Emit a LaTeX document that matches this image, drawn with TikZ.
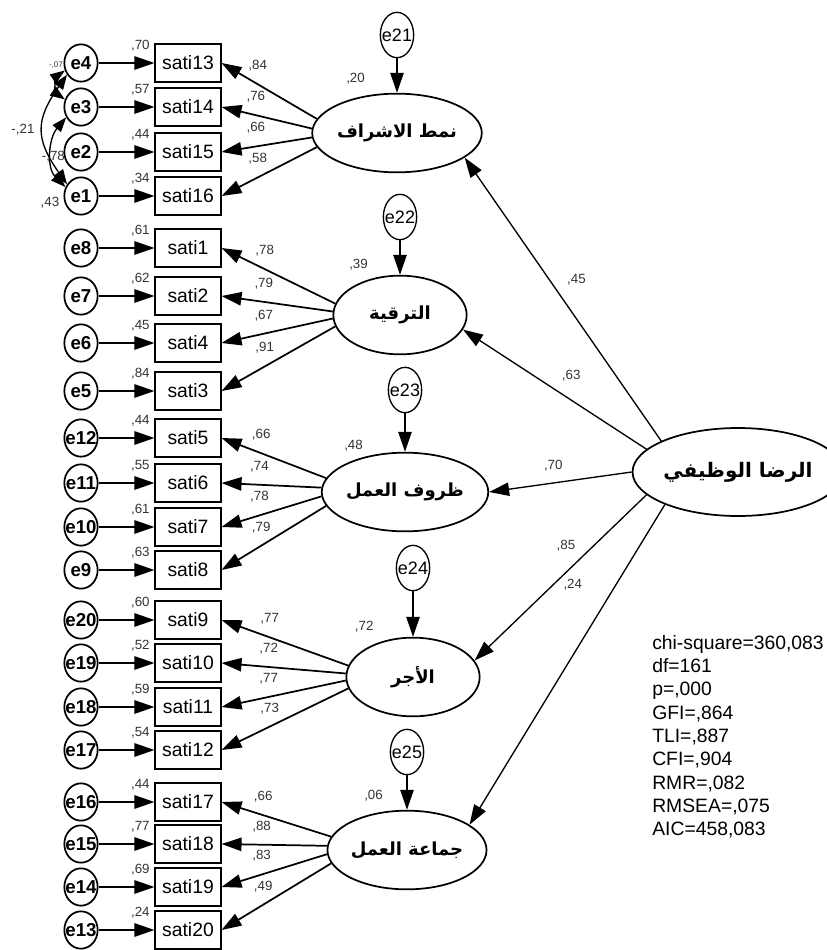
\documentclass[tikz,border=0pt]{standalone}
\usepackage{fontspec}
\setmainfont{Liberation Sans}
\newfontfamily\arabicfont[Script=Arabic]{DejaVu Sans}
\TeXXeTstate=1
\usetikzlibrary{shapes.geometric,arrows.meta}
\newcommand{\artxt}[1]{{\arabicfont\bfseries\beginR #1\endR}}
\begin{document}
\begin{tikzpicture}[x=0.75pt,y=0.75pt,
	item/.style={draw,line width=1.3pt,minimum width=49pt,minimum height=28pt,inner sep=0pt,font=\fontsize{14.5}{15}\selectfont},
	err/.style={draw,ellipse,line width=1.3pt,minimum width=25pt,minimum height=28pt,inner xsep=-6pt,inner ysep=0pt,font=\bfseries\fontsize{14}{15}\selectfont},
	dist/.style={draw,ellipse,line width=1pt,minimum width=25pt,minimum height=34pt,inner xsep=-6pt,inner ysep=0pt,font=\fontsize{13.5}{14}\selectfont},
	latent/.style={draw,ellipse,line width=1.3pt,minimum width=100pt,minimum height=59pt,inner sep=0pt,font=\fontsize{13.5}{14}\selectfont},
	num/.style={font=\fontsize{10}{11}\selectfont,text=black!80,inner sep=1pt},
	smr/.style={pos=1,anchor=south east,xshift=-2pt,yshift=7pt},
	ld/.style={-{Triangle[length=15pt,width=10pt]},line width=1.3pt},
	reg/.style={-{Triangle[length=15pt,width=10pt]},line width=1pt},
	cov/.style={{Triangle[length=11pt,width=8pt]}-{Triangle[length=11pt,width=8pt]},line width=1pt}]
	\useasboundingbox (0,0) rectangle (827,-950);

	\node[latent,minimum width=133pt,minimum height=66pt,font=\fontsize{15}{16}\selectfont] (M) at (738,-472) {\artxt{الرضا الوظيفي}};
	\node[latent] (L1) at (397,-133) {\artxt{نمط الاشراف}};
	\node[latent] (L2) at (400,-315) {\artxt{الترقية}};
	\node[latent] (L3) at (405,-492) {\artxt{ظروف العمل}};
	\node[latent] (L4) at (413,-677) {\artxt{الأجر}};
	\node[latent] (L5) at (407,-850) {\artxt{جماعة العمل}};
	\node[dist] (d1) at (397,-35) {e21};
	\node[dist] (d2) at (400,-217) {e22};
	\node[dist] (d3) at (405,-390) {e23};
	\node[dist] (d4) at (413,-568) {e24};
	\node[dist] (d5) at (407,-752) {e25};

	\node[item] (s13) at (188,-63) {sati13};
	\node[item] (s14) at (188,-107) {sati14};
	\node[item] (s15) at (188,-152) {sati15};
	\node[item] (s16) at (188,-196) {sati16};
	\node[item] (s1) at (188,-248) {sati1};
	\node[item] (s2) at (188,-296) {sati2};
	\node[item] (s4) at (188,-343) {sati4};
	\node[item] (s3) at (188,-391) {sati3};
	\node[item] (s5) at (188,-438) {sati5};
	\node[item] (s6) at (188,-483) {sati6};
	\node[item] (s7) at (188,-527) {sati7};
	\node[item] (s8) at (188,-570) {sati8};
	\node[item] (s9) at (188,-620) {sati9};
	\node[item] (s10) at (188,-663) {sati10};
	\node[item] (s11) at (188,-707) {sati11};
	\node[item] (s12) at (188,-750) {sati12};
	\node[item] (s17) at (188,-802) {sati17};
	\node[item] (s18) at (188,-844) {sati18};
	\node[item] (s19) at (188,-887) {sati19};
	\node[item] (s20) at (188,-930) {sati20};

	\node[err] (e4) at (81,-63) {e4};
	\node[err] (e3) at (81,-107) {e3};
	\node[err] (e2) at (81,-152) {e2};
	\node[err] (e1) at (81,-196) {e1};
	\node[err] (e8) at (81,-248) {e8};
	\node[err] (e7) at (81,-296) {e7};
	\node[err] (e6) at (81,-343) {e6};
	\node[err] (e5) at (81,-391) {e5};
	\node[err] (e12) at (81,-438) {e12};
	\node[err] (e11) at (81,-483) {e11};
	\node[err] (e10) at (81,-527) {e10};
	\node[err] (e9) at (81,-570) {e9};
	\node[err] (e20) at (81,-620) {e20};
	\node[err] (e19) at (81,-663) {e19};
	\node[err] (e18) at (81,-707) {e18};
	\node[err] (e17) at (81,-750) {e17};
	\node[err] (e16) at (81,-802) {e16};
	\node[err] (e15) at (81,-844) {e15};
	\node[err] (e14) at (81,-887) {e14};
	\node[err] (e13) at (81,-930) {e13};

	\draw[ld] (e4) -- (s13) node[num,smr] {,70};
	\draw[ld] (e3) -- (s14) node[num,smr] {,57};
	\draw[ld] (e2) -- (s15) node[num,smr] {,44};
	\draw[ld] (e1) -- (s16) node[num,smr] {,34};
	\draw[ld] (e8) -- (s1) node[num,smr] {,61};
	\draw[ld] (e7) -- (s2) node[num,smr] {,62};
	\draw[ld] (e6) -- (s4) node[num,smr] {,45};
	\draw[ld] (e5) -- (s3) node[num,smr] {,84};
	\draw[ld] (e12) -- (s5) node[num,smr] {,44};
	\draw[ld] (e11) -- (s6) node[num,smr] {,55};
	\draw[ld] (e10) -- (s7) node[num,smr] {,61};
	\draw[ld] (e9) -- (s8) node[num,smr] {,63};
	\draw[ld] (e20) -- (s9) node[num,smr] {,60};
	\draw[ld] (e19) -- (s10) node[num,smr] {,52};
	\draw[ld] (e18) -- (s11) node[num,smr] {,59};
	\draw[ld] (e17) -- (s12) node[num,smr] {,54};
	\draw[ld] (e16) -- (s17) node[num,smr] {,44};
	\draw[ld] (e15) -- (s18) node[num,smr] {,77};
	\draw[ld] (e14) -- (s19) node[num,smr] {,69};
	\draw[ld] (e13) -- (s20) node[num,smr] {,24};

	\draw[ld] (L1.170) -- (s13.east) node[num,pos=.62,above=8pt] {,84};
	\draw[ld] (L1.177) -- (s14.east) node[num,pos=.62,above=8pt] {,76};
	\draw[ld] (L1.183) -- (s15.east) node[num,pos=.62,above=8pt] {,66};
	\draw[ld] (L1.190) -- (s16.east) node[num,pos=.62,above=8pt] {,58};
	\draw[ld] (L2.170) -- (s1.east) node[num,pos=.62,above=8pt] {,78};
	\draw[ld] (L2.177) -- (s2.east) node[num,pos=.62,above=8pt] {,79};
	\draw[ld] (L2.183) -- (s4.east) node[num,pos=.62,above=8pt] {,67};
	\draw[ld] (L2.190) -- (s3.east) node[num,pos=.62,above=8pt] {,91};
	\draw[ld] (L3.170) -- (s5.east) node[num,pos=.62,above=8pt] {,66};
	\draw[ld] (L3.177) -- (s6.east) node[num,pos=.62,above=8pt] {,74};
	\draw[ld] (L3.183) -- (s7.east) node[num,pos=.62,above=8pt] {,78};
	\draw[ld] (L3.190) -- (s8.east) node[num,pos=.62,above=8pt] {,79};
	\draw[ld] (L4.170) -- (s9.east) node[num,pos=.62,above=8pt] {,77};
	\draw[ld] (L4.177) -- (s10.east) node[num,pos=.62,above=8pt] {,72};
	\draw[ld] (L4.183) -- (s11.east) node[num,pos=.62,above=8pt] {,77};
	\draw[ld] (L4.190) -- (s12.east) node[num,pos=.62,above=8pt] {,73};
	\draw[ld] (L5.170) -- (s17.east) node[num,pos=.62,above=8pt] {,66};
	\draw[ld] (L5.177) -- (s18.east) node[num,pos=.62,above=8pt] {,88};
	\draw[ld] (L5.183) -- (s19.east) node[num,pos=.62,above=8pt] {,83};
	\draw[ld] (L5.190) -- (s20.east) node[num,pos=.62,above=8pt] {,49};

	\draw[ld] (d1) -- (L1) node[num,pos=1,anchor=south east,xshift=-22.5pt,yshift=4.5pt] {,20};
	\draw[ld] (d2) -- (L2) node[num,pos=1,anchor=south east,xshift=-22.5pt,yshift=1.5pt] {,39};
	\draw[ld] (d3) -- (L3) node[num,pos=1,anchor=south east,xshift=-30pt,yshift=-1.5pt] {,48};
	\draw[ld] (d4) -- (L4) node[num,pos=1,anchor=south east,xshift=-28pt,yshift=1.5pt] {,72};
	\draw[ld] (d5) -- (L5) node[num,pos=1,anchor=south east,xshift=-16.5pt,yshift=4.5pt] {,06};

	\draw[reg] (M.158) -- (L1.-20) node[num,pos=.57,right=12pt] {,45};
	\draw[reg] (M.166) -- (L2.-13) node[num,pos=.41,above=13pt] {,63};
	\draw[reg] (M.180) -- (L3.0) node[num,pos=.55,above=7pt] {,70};
	\draw[reg] (M.194) -- (L4.15) node[num,pos=.31,left=12pt] {,85};
	\draw[reg] (M.204) -- (L5.22) node[num,pos=.25,left=24pt] {,24};

	\draw[cov] (e4.205) to[out=215,in=145] node[num,pos=0,anchor=east,yshift=4pt,font=\fontsize{6}{7}\selectfont] {-,07} (e3.155);
	\draw[cov] (e4.220) to[out=235,in=125,looseness=1.3] node[num,pos=.5,left=5pt] {-,21} (e1.140);
	\draw[cov] (e3.215) to[out=230,in=135] node[num,pos=.55,xshift=1pt] {-,78} (e1.150);
	\node[num] (v1) at (50,-203) {,43};

	\node[anchor=north west,align=left,inner sep=0pt,font=\fontsize{14.5}{17.5}\selectfont] (stats) at (652,-635) {chi-square=360,083\\df=161\\p=,000\\GFI=,864\\TLI=,887\\CFI=,904\\RMR=,082\\RMSEA=,075\\AIC=458,083};
\end{tikzpicture}
\end{document}
